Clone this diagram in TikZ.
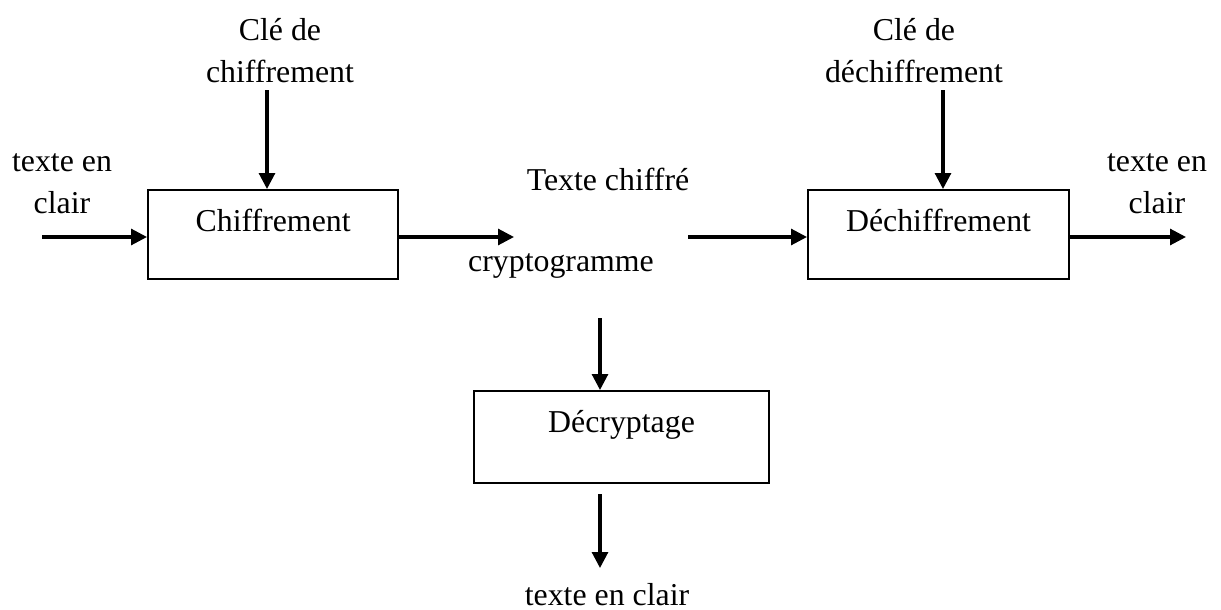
\documentclass[tikz,border=0pt]{standalone}
\usepackage{fontspec}
\setmainfont{Liberation Serif}
\usetikzlibrary{arrows.meta}

\begin{document}
\begin{tikzpicture}[
  x=0.377pt, y=-0.377pt,
  font=\fontsize{12}{15.8}\selectfont,
  box/.style={draw, line width=0.8pt, inner sep=0pt, anchor=north west,
              text height=15.5pt, text depth=18.1pt},
  lbl/.style={anchor=base, align=center, inner sep=0pt},
  arr/.style={-{Triangle[length=6pt, width=6pt]}, line width=1.15pt}
]
  \useasboundingbox (0,0) rectangle (1221,610);

  % Boxes
  \node[box, minimum width=94.3pt] (chif) at (147,189) {Chiffrement};
  \node[box, minimum width=98.4pt] (dech) at (807,189) {Déchiffrement};
  \node[box, minimum width=111.2pt, text height=15.8pt, text depth=18.9pt] (decr) at (473,390) {Décryptage};

  % Labels (base = last line)
  \node[lbl] (cle1) at (280,82) {Clé de\\chiffrement};
  \node[lbl] (cle2) at (914,82) {Clé de\\déchiffrement};
  \node[lbl] (in) at (62,213) {texte en\\clair};
  \node[lbl] (out) at (1157,213) {texte en\\clair};
  \node[lbl] (tc) at (608,190) {Texte chiffré};
  \node[lbl] (crypto) at (561,271) {cryptogramme};
  \node[lbl] (clair) at (607,605) {texte en clair};

  % Free ends
  \coordinate (a0) at (42,237);
  \coordinate (a1) at (514,237);
  \coordinate (a2) at (688,237);
  \coordinate (a3) at (1186,237);
  \coordinate (k1) at (267,90);
  \coordinate (k2) at (943,90);
  \coordinate (d0) at (600,318);
  \coordinate (d1) at (600,494);
  \coordinate (d2) at (600,568);

  % Arrows
  \draw[arr] (a0) -- (a0 -| chif.west);
  \draw[arr] (a1 -| chif.east) -- (a1);
  \draw[arr] (a2) -- (a2 -| dech.west);
  \draw[arr] (a3 -| dech.east) -- (a3);
  \draw[arr] (k1) -- (k1 |- chif.north);
  \draw[arr] (k2) -- (k2 |- dech.north);
  \draw[arr] (d0) -- (d0 |- decr.north);
  \draw[arr] (d1) -- (d2);
\end{tikzpicture}
\end{document}
